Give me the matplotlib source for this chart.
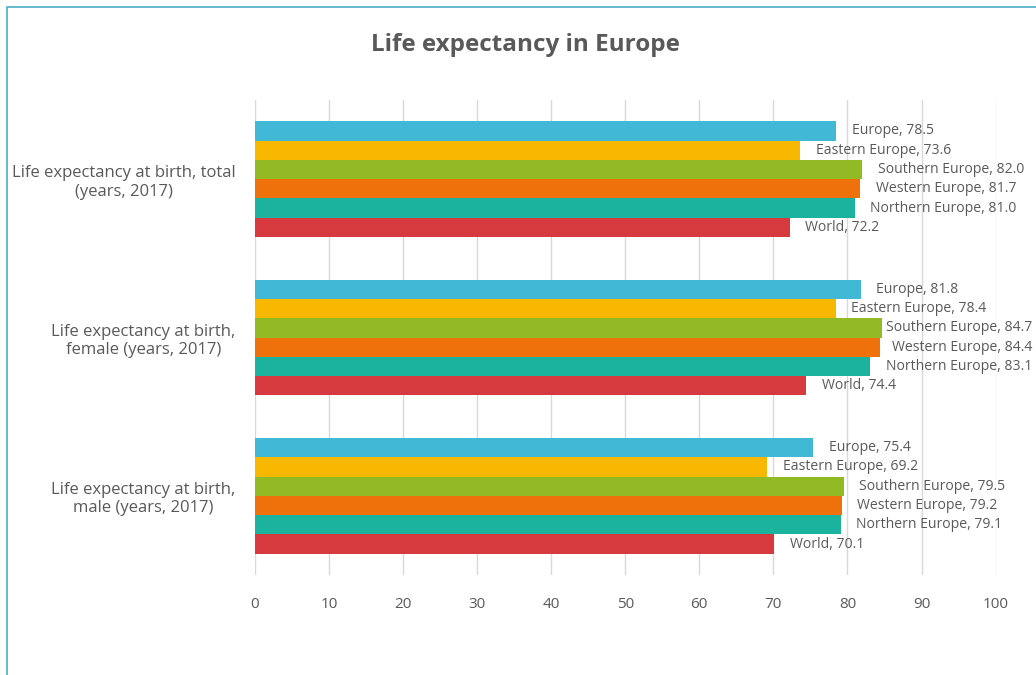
import numpy as np
import matplotlib.pyplot as plt
from matplotlib.patches import Rectangle

plt.rcParams['font.family'] = ['Open Sans', 'DejaVu Sans']

categories = ['Life expectancy at birth, total\n(years, 2017)',
              'Life expectancy at birth,\nfemale (years, 2017)',
              'Life expectancy at birth,\nmale (years, 2017)']
series = ['Europe', 'Eastern Europe', 'Southern Europe', 'Western Europe', 'Northern Europe', 'World']
colors = ['#41B8D5', '#F9B800', '#92BA25', '#EE710B', '#1BB39E', '#D6393E']
europe = [78.5, 81.8, 75.4]
eastern = [73.6, 78.4, 69.2]
southern = [82.0, 84.7, 79.5]
western = [81.7, 84.4, 79.2]
northern = [81.0, 83.1, 79.1]
world = [72.2, 74.4, 70.1]
values = [europe, eastern, southern, western, northern, world]
xticks = [0, 10, 20, 30, 40, 50, 60, 70, 80, 90, 100]

fig = plt.figure(figsize=(10.36, 6.75), dpi=100)
ax = fig.add_axes([0.246, 0.148, 0.715, 0.704])

# frame around the chart area (cut off at right and bottom like the source)
fig.patches.append(Rectangle((7/1036, -0.1), 1.2, 1 - 7/675 + 0.1, transform=fig.transFigure,
                             fill=False, edgecolor='#4BACC6', linewidth=1.2))

ypos = np.arange(len(categories))
h = 0.73 / len(series)
grey = '#595959'
labels = []
for i, (name, vals, c) in enumerate(zip(series, values, colors)):
    yy = ypos - 0.365 + h * (i + 0.5)
    ax.barh(yy, vals, height=h, color=c, zorder=3)
    for y, v in zip(yy, vals):
        t = ax.text(v + 2.1, y, f'{name}, {v:.1f}', va='center', ha='left', fontsize=10.1,
                    color=grey, zorder=4)
        labels.append(t)

ax.set_ylim(2.5, -0.5)
ax.set_xlim(0, 100)
ax.set_xticks(xticks)
ax.set_yticks(ypos)
ax.set_yticklabels(categories, fontsize=12, color=grey, multialignment='center')
ax.tick_params(axis='x', colors=grey, labelsize=11, length=0, pad=16)
ax.tick_params(axis='y', length=0, pad=14)
ax.grid(axis='x', color='#D9D9D9', linewidth=1, zorder=0)
for s in ax.spines.values():
    s.set_visible(False)

fig.text(0.507, 0.933, 'Life expectancy in Europe', ha='center', va='center',
         fontsize=17.5, fontweight='bold', color=grey)

# pull labels back inside the figure if they run past the right edge
fig.canvas.draw()
r = fig.canvas.get_renderer()
px_per_unit = ax.transData.transform((1, 0))[0] - ax.transData.transform((0, 0))[0]
for t in labels:
    bb = t.get_window_extent(r)
    over = bb.x1 - (fig.bbox.width - 4)
    if over > 0:
        x, y = t.get_position()
        t.set_position((x - over / px_per_unit, y))

fig.savefig('out.png', dpi=100)
